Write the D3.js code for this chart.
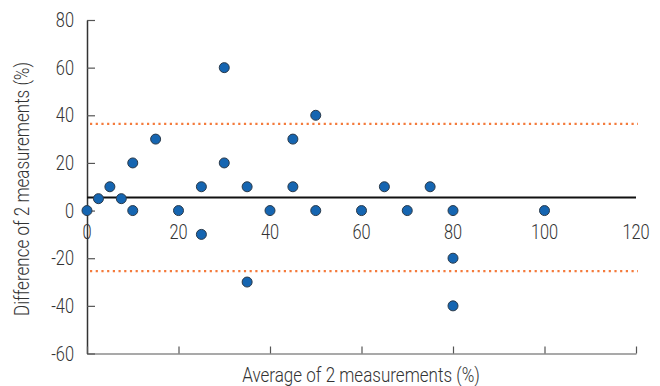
<!DOCTYPE html>
<html><head><meta charset="utf-8">
<script src="https://cdn.jsdelivr.net/npm/d3@7"></script>
<style>body{margin:0;background:#fff}svg{display:block}</style>
</head><body>
<script>
const avgValues  = [0, 2.5, 5, 7.5, 10, 10, 15, 20, 25, 25, 30, 30, 35, 35, 40, 45, 45, 50, 50, 60, 65, 70, 75, 80, 80, 80, 100];
const diffValues = [0, 5, 10, 5, 20, 0, 30, 0, 10, -10, 60, 20, 10, -30, 0, 30, 10, 40, 0, 0, 10, 0, 10, 0, -20, -40, 0];
const meanDiff = 5.5;
const upperLoA = 36.4;
const lowerLoA = -25.4;
const xTicks = [0, 20, 40, 60, 80, 100, 120];
const yTicks = [-60, -40, -20, 0, 20, 40, 60, 80];
const xTitle = "Average of 2 measurements (%)";
const yTitle = "Difference of 2 measurements (%)";

(function () {
const W = 660, H = 386;
const mL = 87, mR = 636, mT = 20, mB = 353.5;
const font = "Roboto, 'DejaVu Sans Condensed', sans-serif";
const fs = 19.5, fsT = 20.3, sx = 0.84, fw = 300;
const textCol = "#333";
const fmt = d => String(d).replace("\u2212", "-");

const svg = d3.select("body").append("svg").attr("width", W).attr("height", H);
const x = d3.scaleLinear().domain([0, 120]).range([mL, mR]);
const y = d3.scaleLinear().domain([-60, 80]).range([mB, mT]);

// y axis
const ya = svg.append("g").attr("transform", `translate(${mL},0)`)
  .call(d3.axisLeft(y).tickValues(yTicks).tickSizeInner(-8).tickSizeOuter(0).tickFormat(""));
ya.select(".domain").attr("stroke", "#333").attr("stroke-width", 1.5);
ya.selectAll(".tick line").attr("stroke", "#555").attr("stroke-width", 1.2);

svg.append("g").selectAll("text").data(yTicks).join("text")
  .attr("transform", d => `translate(74,${y(d)}) scale(${sx},1)`)
  .attr("dy", "0.36em")
  .attr("text-anchor", "end")
  .attr("font-family", font).attr("font-weight", fw).attr("font-size", fs).attr("fill", textCol)
  .text(fmt);

// x axis line at bottom with inward ticks, no labels
const xa = svg.append("g").attr("transform", `translate(0,${mB})`)
  .call(d3.axisBottom(x).tickValues(xTicks).tickSizeInner(-7).tickSizeOuter(0).tickFormat(""));
xa.select(".domain").attr("stroke", "#555").attr("stroke-width", 1.2);
xa.selectAll(".tick line").attr("stroke", "#555").attr("stroke-width", 1.2);

// x tick labels next to zero line
svg.append("g").selectAll("text").data(xTicks).join("text")
  .attr("transform", d => `translate(${x(d)},${y(0) + 28}) scale(${sx},1)`)
  .attr("text-anchor", "middle")
  .attr("font-family", font).attr("font-weight", fw).attr("font-size", fs).attr("fill", textCol)
  .text(fmt);

// mean line
svg.append("line").attr("x1", x(0)).attr("x2", mR).attr("y1", y(meanDiff)).attr("y2", y(meanDiff))
  .attr("stroke", "#111").attr("stroke-width", 2);

// LoA lines
[upperLoA, lowerLoA].forEach(v => {
  svg.append("line").attr("x1", x(0) + 3).attr("x2", mR + 2).attr("y1", y(v)).attr("y2", y(v))
    .attr("stroke", "#f47b3c").attr("stroke-width", 2.2).attr("stroke-dasharray", "2.2 3.5");
});

// points
svg.append("g").selectAll("circle").data(avgValues.map((a, i) => [a, diffValues[i]])).join("circle")
  .attr("cx", d => x(d[0])).attr("cy", d => y(d[1])).attr("r", 5)
  .attr("fill", "#1565b1").attr("stroke", "#2a3a4a").attr("stroke-width", 1);

// titles
svg.append("text").attr("transform", `translate(361,381.5) scale(${sx},1)`).attr("text-anchor", "middle")
  .attr("font-family", font).attr("font-weight", fw).attr("font-size", fsT).attr("fill", textCol).text(xTitle);
svg.append("text").attr("transform", `translate(29,189) rotate(-90) scale(${sx},1)`).attr("text-anchor", "middle")
  .attr("font-family", font).attr("font-weight", fw).attr("font-size", fsT).attr("fill", textCol).text(yTitle);
})();
</script>
</body></html>
